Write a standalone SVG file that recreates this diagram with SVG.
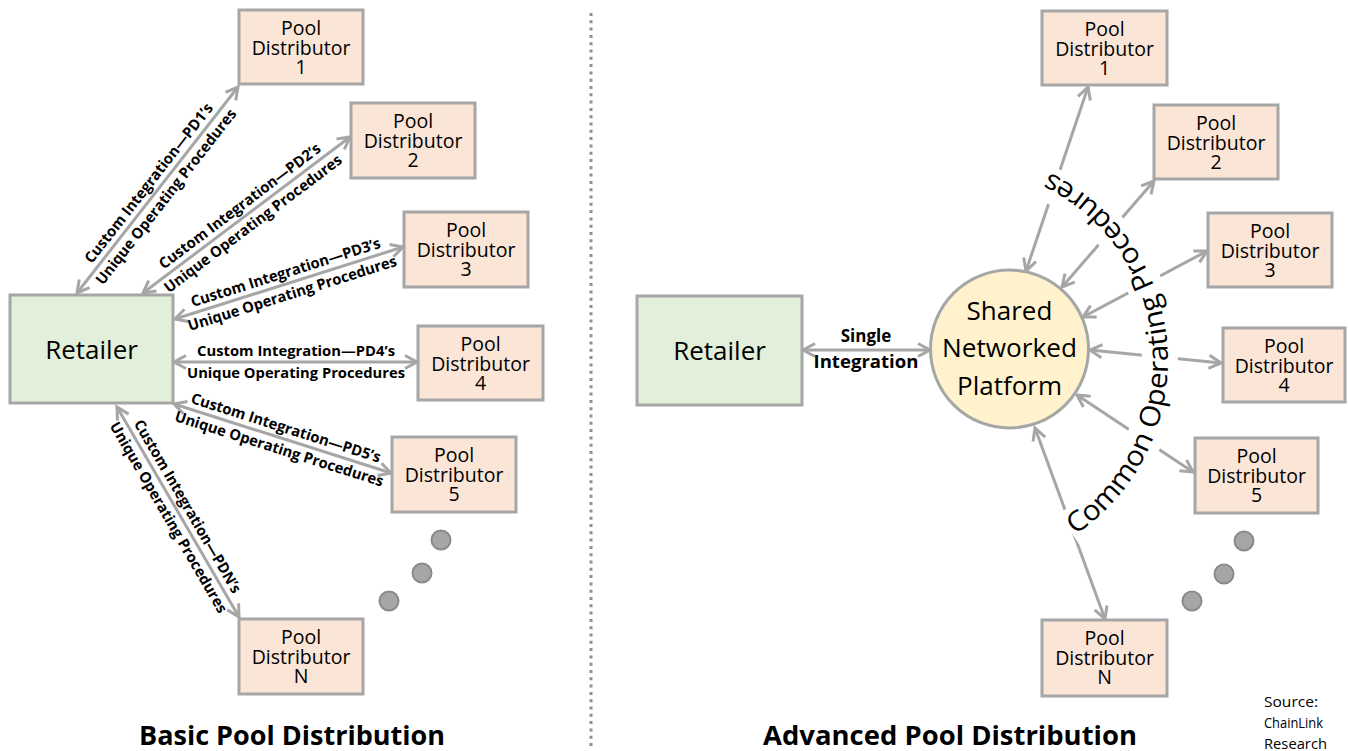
<svg xmlns="http://www.w3.org/2000/svg" width="1348" height="751" viewBox="0 0 1348 751">
<style>
.box{stroke:#a6a6a6;stroke-width:3}
.pd{fill:#fbe5d6}
.ret{fill:#e2efda}
.plat{fill:#fff2cc}
.t{font-family:"Open Sans","Liberation Sans",sans-serif;fill:#000;text-anchor:middle}
.pdt{font-size:19.5px}
.big{font-size:26px}
.lbl{font-size:15px;font-weight:bold}
.ttl{font-size:27px;font-weight:bold}
.src{font-size:15px;text-anchor:start}
.conn{stroke:#a6a6a6;stroke-width:3;fill:none;marker-start:url(#ah);marker-end:url(#ah)}
.dot{fill:#a6a6a6;stroke:#8a8a8a;stroke-width:2}
</style>
<defs>
<marker id="ah" viewBox="-16 -10 20 20" markerWidth="20" markerHeight="20" refX="0" refY="0" markerUnits="userSpaceOnUse" orient="auto-start-reverse">
<path d="M-12,-6.5 L0,0 L-12,6.5" fill="none" stroke="#a6a6a6" stroke-width="3"/>
</marker>
<path id="arc" d="M1057.1,545.5 A209,209 0 0 0 1030.5,164.6"/>
</defs>
<rect width="1348" height="751" fill="#fff"/>
<line x1="591" y1="13" x2="591" y2="748" stroke="#8f8f8f" stroke-width="3" stroke-dasharray="3 4.3"/>

<g id="connectors">
<line class="conn" x1="77" y1="293" x2="238" y2="87"/>
<line class="conn" x1="143" y1="293" x2="350" y2="137"/>
<line class="conn" x1="175" y1="319" x2="403" y2="247"/>
<line class="conn" x1="174" y1="362" x2="417" y2="362"/>
<line class="conn" x1="174" y1="404" x2="391" y2="473"/>
<line class="conn" x1="117" y1="407" x2="239" y2="617"/>
<line class="conn" x1="803" y1="350" x2="930" y2="350"/>
<line class="conn" x1="1026" y1="271" x2="1088" y2="87"/>
<line class="conn" x1="1062" y1="287" x2="1154" y2="181"/>
<line class="conn" x1="1083" y1="317" x2="1207" y2="251"/>
<line class="conn" x1="1090" y1="350" x2="1221" y2="363"/>
<line class="conn" x1="1077" y1="395" x2="1193" y2="472"/>
<line class="conn" x1="1035" y1="428" x2="1105" y2="619"/>
</g>

<g id="connector-labels">
<g transform="translate(157.5,190) rotate(-52)">
<text class="t lbl" x="0" y="-6" textLength="198" lengthAdjust="spacingAndGlyphs">Custom Integration—PD1’s</text>
<text class="t lbl" x="0" y="16" textLength="218" lengthAdjust="spacingAndGlyphs">Unique Operating Procedures</text>
</g>
<g transform="translate(246.5,215) rotate(-37)">
<text class="t lbl" x="0" y="-6" textLength="198" lengthAdjust="spacingAndGlyphs">Custom Integration—PD2’s</text>
<text class="t lbl" x="0" y="16" textLength="218" lengthAdjust="spacingAndGlyphs">Unique Operating Procedures</text>
</g>
<g transform="translate(289,283) rotate(-17.5)">
<text class="t lbl" x="0" y="-6" textLength="198" lengthAdjust="spacingAndGlyphs">Custom Integration—PD3’s</text>
<text class="t lbl" x="0" y="16" textLength="218" lengthAdjust="spacingAndGlyphs">Unique Operating Procedures</text>
</g>
<g transform="translate(296,362)">
<text class="t lbl" x="0" y="-6" textLength="198" lengthAdjust="spacingAndGlyphs">Custom Integration—PD4’s</text>
<text class="t lbl" x="0" y="16" textLength="218" lengthAdjust="spacingAndGlyphs">Unique Operating Procedures</text>
</g>
<g transform="translate(282.5,438.5) rotate(17.6)">
<text class="t lbl" x="0" y="-6" textLength="198" lengthAdjust="spacingAndGlyphs">Custom Integration—PD5’s</text>
<text class="t lbl" x="0" y="16" textLength="218" lengthAdjust="spacingAndGlyphs">Unique Operating Procedures</text>
</g>
<g transform="translate(178,512) rotate(59.8)">
<text class="t lbl" x="0" y="-6" textLength="198" lengthAdjust="spacingAndGlyphs">Custom Integration—PDN’s</text>
<text class="t lbl" x="0" y="16" textLength="218" lengthAdjust="spacingAndGlyphs">Unique Operating Procedures</text>
</g>
<text class="t" x="866" y="342" style="font-size:17px;font-weight:bold">Single</text>
<text class="t" x="866" y="368" style="font-size:17px;font-weight:bold" textLength="105" lengthAdjust="spacingAndGlyphs">Integration</text>
<g id="common-procedures">
<path d="M1069.0,528.6 A198,198 0 0 0 1045.5,182.5" fill="none" stroke="#fff" stroke-width="36"/>
<text class="t" style="font-size:28px" textLength="440" lengthAdjust="spacingAndGlyphs"><textPath href="#arc" startOffset="50%">Common Operating Procedures</textPath></text>
</g>
</g>

<g id="retailer-basic">
<rect class="box ret" x="10" y="295" width="163" height="108"/>
<text class="t big" x="91.5" y="359">Retailer</text>
</g>
<g id="pd1-basic">
<rect class="box pd" x="239" y="10" width="124" height="74"/>
<text class="t pdt" x="301" y="35">Pool</text><text class="t pdt" x="301" y="55">Distributor</text><text class="t pdt" x="301" y="74">1</text>
</g>
<g id="pd2-basic">
<rect class="box pd" x="351" y="103" width="124" height="75"/>
<text class="t pdt" x="413" y="128">Pool</text><text class="t pdt" x="413" y="148">Distributor</text><text class="t pdt" x="413" y="167">2</text>
</g>
<g id="pd3-basic">
<rect class="box pd" x="404" y="212" width="124" height="75"/>
<text class="t pdt" x="466" y="237">Pool</text><text class="t pdt" x="466" y="257">Distributor</text><text class="t pdt" x="466" y="276">3</text>
</g>
<g id="pd4-basic">
<rect class="box pd" x="418" y="326" width="125" height="74"/>
<text class="t pdt" x="480.5" y="351">Pool</text><text class="t pdt" x="480.5" y="371">Distributor</text><text class="t pdt" x="480.5" y="390">4</text>
</g>
<g id="pd5-basic">
<rect class="box pd" x="392" y="437" width="124" height="75"/>
<text class="t pdt" x="454" y="462">Pool</text><text class="t pdt" x="454" y="482">Distributor</text><text class="t pdt" x="454" y="501">5</text>
</g>
<g id="pdn-basic">
<rect class="box pd" x="239" y="619" width="124" height="75"/>
<text class="t pdt" x="301" y="644">Pool</text><text class="t pdt" x="301" y="664">Distributor</text><text class="t pdt" x="301" y="683">N</text>
</g>
<g id="dots-basic">
<circle class="dot" cx="441" cy="540" r="9.5"/>
<circle class="dot" cx="422" cy="573" r="9.5"/>
<circle class="dot" cx="389" cy="601" r="9.5"/>
</g>

<g id="retailer-advanced">
<rect class="box ret" x="637" y="296" width="165" height="109"/>
<text class="t big" x="719.5" y="360">Retailer</text>
</g>
<g id="platform">
<circle class="box plat" cx="1009.5" cy="349" r="79"/>
<text class="t big" x="1009.5" y="320">Shared</text>
<text class="t big" x="1009.5" y="357" textLength="135" lengthAdjust="spacingAndGlyphs">Networked</text>
<text class="t big" x="1009.5" y="395">Platform</text>
</g>
<g id="pd1-adv">
<rect class="box pd" x="1042" y="11" width="125" height="74"/>
<text class="t pdt" x="1104.5" y="36">Pool</text><text class="t pdt" x="1104.5" y="56">Distributor</text><text class="t pdt" x="1104.5" y="75">1</text>
</g>
<g id="pd2-adv">
<rect class="box pd" x="1154" y="105" width="124" height="74"/>
<text class="t pdt" x="1216" y="130">Pool</text><text class="t pdt" x="1216" y="150">Distributor</text><text class="t pdt" x="1216" y="169">2</text>
</g>
<g id="pd3-adv">
<rect class="box pd" x="1208" y="213" width="124" height="74"/>
<text class="t pdt" x="1270" y="238">Pool</text><text class="t pdt" x="1270" y="258">Distributor</text><text class="t pdt" x="1270" y="277">3</text>
</g>
<g id="pd4-adv">
<rect class="box pd" x="1223" y="328" width="122" height="74"/>
<text class="t pdt" x="1284" y="353">Pool</text><text class="t pdt" x="1284" y="373">Distributor</text><text class="t pdt" x="1284" y="392">4</text>
</g>
<g id="pd5-adv">
<rect class="box pd" x="1195" y="438" width="123" height="75"/>
<text class="t pdt" x="1256.5" y="463">Pool</text><text class="t pdt" x="1256.5" y="483">Distributor</text><text class="t pdt" x="1256.5" y="502">5</text>
</g>
<g id="pdn-adv">
<rect class="box pd" x="1042" y="620" width="125" height="76"/>
<text class="t pdt" x="1104.5" y="645">Pool</text><text class="t pdt" x="1104.5" y="665">Distributor</text><text class="t pdt" x="1104.5" y="684">N</text>
</g>
<g id="dots-adv">
<circle class="dot" cx="1244" cy="541" r="9.5"/>
<circle class="dot" cx="1224" cy="574" r="9.5"/>
<circle class="dot" cx="1192" cy="601" r="9.5"/>
</g>

<g id="titles">
<text class="t ttl" x="292" y="745" textLength="306" lengthAdjust="spacingAndGlyphs">Basic Pool Distribution</text>
<text class="t ttl" x="950" y="745" textLength="374" lengthAdjust="spacingAndGlyphs">Advanced Pool Distribution</text>
<text class="t src" x="1264" y="707" textLength="54" lengthAdjust="spacingAndGlyphs">Source:</text>
<text class="t src" x="1264" y="728" textLength="59" lengthAdjust="spacingAndGlyphs">ChainLink</text>
<text class="t src" x="1264" y="749" textLength="63" lengthAdjust="spacingAndGlyphs">Research</text>
</g>
</svg>
